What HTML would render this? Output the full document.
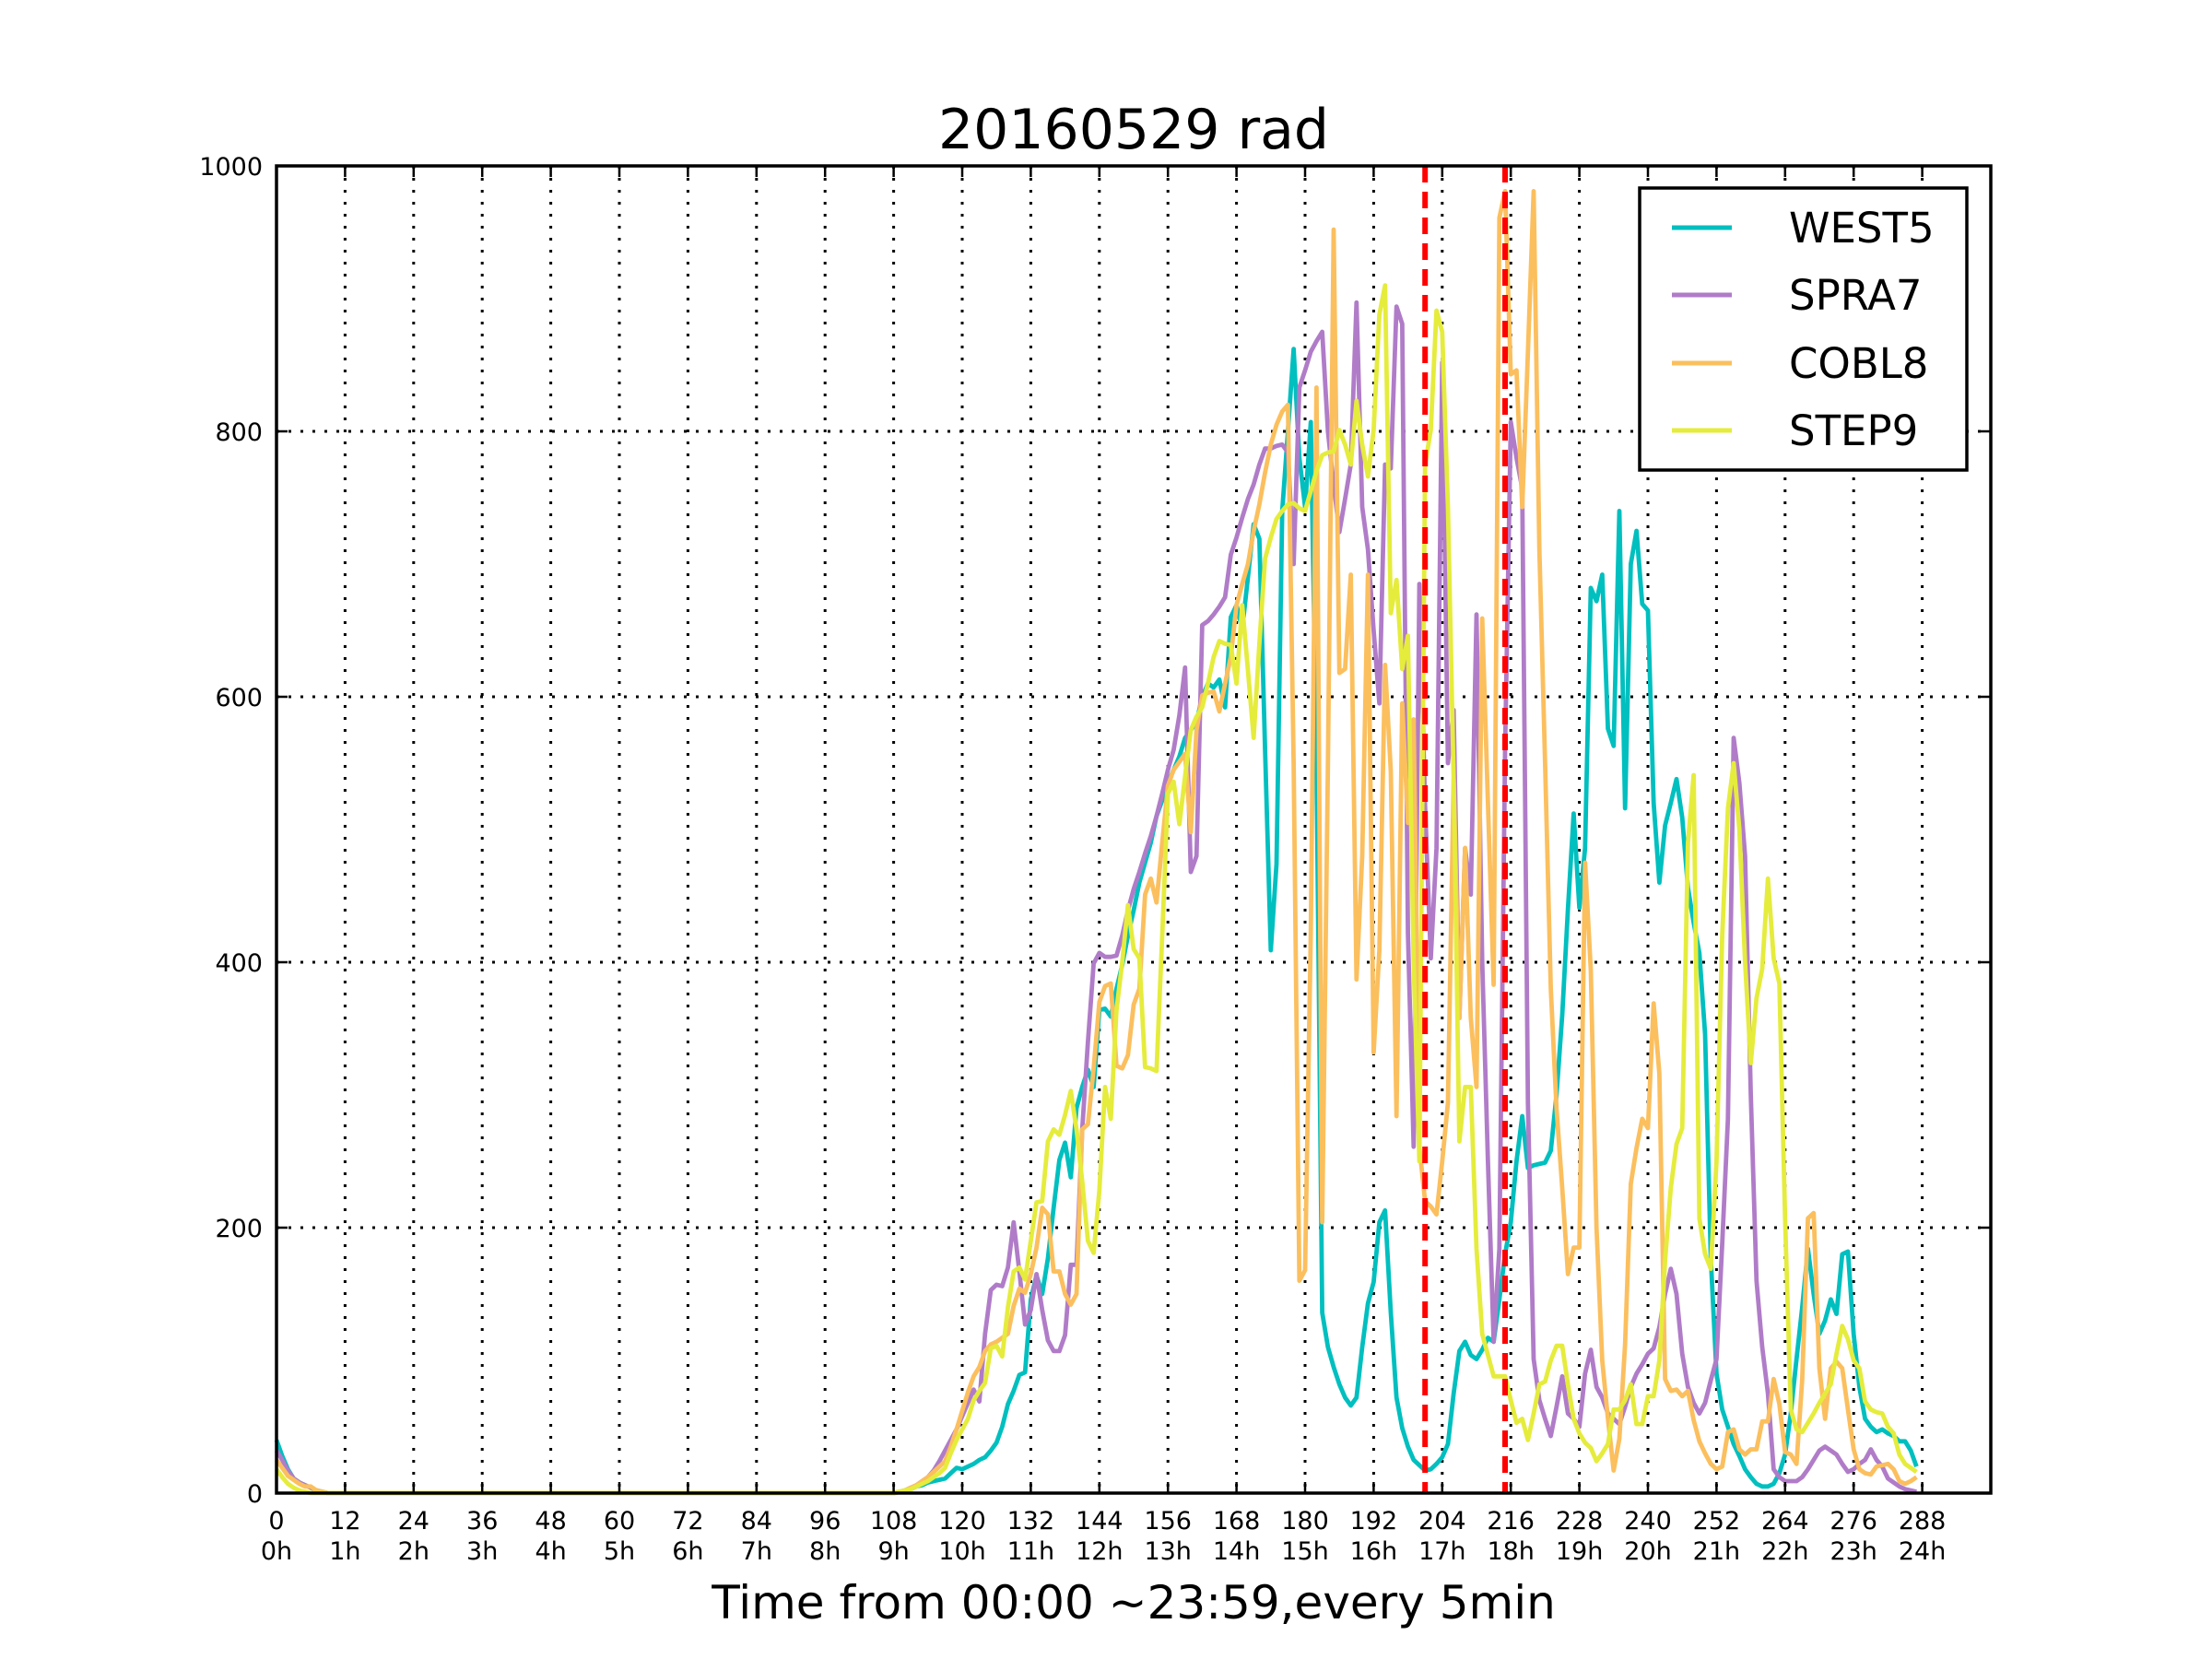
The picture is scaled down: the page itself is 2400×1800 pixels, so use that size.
<!DOCTYPE html>
<html><head><meta charset="utf-8"><style>
html,body{margin:0;padding:0;background:#fff;}
svg{display:block;font-family:"DejaVu Sans","Liberation Sans",sans-serif;}
</style></head><body>
<svg id="chart" width="2400" height="1800" viewBox="0 0 2400 1800" xmlns="http://www.w3.org/2000/svg">
<rect x="0" y="0" width="2400" height="1800" fill="#fff"/>
<text x="1230" y="161" font-size="60" text-anchor="middle">20160529 rad</text>
<text x="1230" y="1756" font-size="50" text-anchor="middle">Time from 00:00 ~23:59,every 5min</text>
<g id="grid"></g>
<g id="series"></g>
<g id="refs"></g>
<rect x="300" y="180" width="1860" height="1440" fill="none" stroke="#000" stroke-width="3.5"/>
<g id="ticks"></g>
<g>
<rect x="1779" y="204" width="355" height="306" fill="#fff" stroke="#000" stroke-width="3.5"/>
<line x1="1814" y1="247" x2="1879" y2="247" stroke="#00bfbf" stroke-width="5"/>
<text x="1941" y="263" font-size="45">WEST5</text>
<line x1="1814" y1="320" x2="1879" y2="320" stroke="#b07cc8" stroke-width="5"/>
<text x="1941" y="336" font-size="45">SPRA7</text>
<line x1="1814" y1="394" x2="1879" y2="394" stroke="#fbbf5e" stroke-width="5"/>
<text x="1941" y="410" font-size="45">COBL8</text>
<line x1="1814" y1="467" x2="1879" y2="467" stroke="#e5ec3c" stroke-width="5"/>
<text x="1941" y="483" font-size="45">STEP9</text>
</g>
</svg>
<script>
const xTicks = [0,12,24,36,48,60,72,84,96,108,120,132,144,156,168,180,192,204,216,228,240,252,264,276,288];
const xHourLabels = ["0h","1h","2h","3h","4h","5h","6h","7h","8h","9h","10h","11h","12h","13h","14h","15h","16h","17h","18h","19h","20h","21h","22h","23h","24h"];
const yTicks = [0,200,400,600,800,1000];
const refLines = [201,215];
const seriesNames = ["WEST5","SPRA7","COBL8","STEP9"];
const seriesColors = ["#00bfbf","#b07cc8","#fbbf5e","#e5ec3c"];
const west5Start = [40,28,18,11,8,6,4,2,1,0];
const spra7Start = [32,25,17,11,8,6,4,2,1,0];
const cobl8Start = [25,19,13,10,7,5,5,2,1,0];
const step9Start = [18,12,7,4,2,1,0,0,0,0];
// values from index 108 to 287
const west5Day = [0,1,2,3,5,6,8,9,10,11,15,19,18,20,22,25,27,32,38,50,67,77,89,91,146,164,150,177,215,251,264,238,290,306,319,306,364,365,359,380,398,420,439,460,475,490,510,522,535,545,555,569,575,581,600,610,607,613,592,660,669,651,690,730,719,560,409,474,740,800,862,780,743,807,550,136,110,95,82,72,66,72,110,143,159,204,213,136,72,49,35,25,21,17,18,22,27,37,75,107,114,104,101,108,117,114,146,180,204,250,284,245,247,248,249,258,300,360,440,512,441,486,682,672,692,576,563,740,516,700,725,670,665,520,460,503,520,538,509,456,430,407,346,177,90,63,50,37,28,18,12,7,5,5,7,15,29,60,101,140,184,150,120,130,146,135,180,182,120,80,56,50,46,48,45,43,39,39,32,20];
const spra7Day = [0,1,2,4,6,9,12,17,24,32,40,48,58,68,78,69,120,153,157,156,170,204,167,127,138,165,138,115,107,107,119,172,172,274,340,399,407,404,404,405,420,439,455,468,482,495,510,527,545,560,586,622,468,480,654,657,662,668,675,707,720,735,749,760,775,787,787,789,790,784,700,833,846,860,868,875,800,760,724,749,775,897,743,711,650,595,775,772,894,881,422,261,685,518,403,486,852,550,590,358,486,451,662,400,250,114,184,560,807,780,757,294,101,70,56,43,65,88,60,56,50,90,108,80,72,60,56,52,65,80,90,97,105,109,125,150,169,150,105,80,68,60,68,85,101,188,282,569,535,480,300,160,110,75,18,12,9,9,9,12,18,25,32,35,32,29,22,16,18,22,25,33,25,20,11,8,5,3,2,1];
const cobl8Day = [0,1,2,4,6,9,12,16,20,24,35,48,62,76,88,95,107,112,114,117,120,141,154,151,165,185,215,210,167,167,150,142,150,274,278,320,370,382,384,322,320,330,368,380,451,463,445,490,533,545,551,557,498,575,601,603,604,589,610,630,669,685,700,725,745,769,790,805,815,820,550,160,168,422,833,204,550,952,618,621,692,387,480,692,332,409,624,544,284,595,505,583,261,220,216,210,250,294,538,358,486,358,306,659,520,383,961,981,843,846,743,860,981,711,550,380,290,230,165,185,185,475,394,200,100,56,17,41,112,233,260,282,275,369,316,86,77,78,73,77,55,39,30,22,18,20,46,48,33,29,33,33,54,54,86,67,31,29,22,86,207,211,94,56,94,99,94,63,33,18,15,14,20,21,22,18,9,7,9,12];
const step9Day = [0,1,2,3,5,7,9,12,15,19,30,40,48,56,70,77,83,109,111,103,140,167,170,161,190,219,220,265,274,270,285,303,274,235,190,181,228,306,282,364,400,443,410,403,321,320,318,420,527,536,504,540,575,585,592,610,630,642,640,639,610,669,620,569,640,704,720,734,740,745,746,742,740,755,770,782,784,785,801,790,775,823,790,766,801,888,910,663,688,621,646,400,250,775,801,891,875,743,538,265,306,306,184,120,104,88,88,88,70,53,56,40,60,82,84,100,111,111,82,56,45,38,34,24,30,37,63,63,70,82,52,52,73,73,100,175,230,263,275,490,541,207,180,169,250,420,516,550,500,400,324,373,395,463,403,384,207,63,48,46,53,60,68,75,82,105,126,116,100,94,69,63,61,60,50,45,29,22,19,16];
const dayStart = 108;

const NS = "http://www.w3.org/2000/svg";
const X0 = 300, X1 = 2160, Y0 = 1620, Y1 = 180;
const xMax = 300, yMax = 1000;
function xs(v){ return X0 + v*(X1-X0)/xMax; }
function ys(v){ return Y0 - v*(Y0-Y1)/yMax; }
function mk(tag, attrs, parent){ const e=document.createElementNS(NS,tag); for(const k in attrs) e.setAttribute(k,attrs[k]); parent.appendChild(e); return e; }

function fullSeries(start, day){
  const out=[];
  for(let i=0;i<dayStart;i++) out.push(i<start.length?start[i]:0);
  for(let j=0;j<day.length;j++) out.push(day[j]);
  return out;
}
const allSeries = [fullSeries(west5Start,west5Day), fullSeries(spra7Start,spra7Day), fullSeries(cobl8Start,cobl8Day), fullSeries(step9Start,step9Day)];

const grid=document.getElementById('grid');
xTicks.forEach((t)=>{
  const l=mk('line',{x1:xs(t),x2:xs(t),y1:Y1,y2:Y0,stroke:'#000','stroke-width':3,'stroke-dasharray':'3,10'},grid);
  
  
});
yTicks.forEach((t)=>{
  const l=mk('line',{x1:X0,x2:X1,y1:ys(t),y2:ys(t),stroke:'#000','stroke-width':3,'stroke-dasharray':'3,10'},grid);
  
  
});

const sg=document.getElementById('series');
allSeries.forEach((vals,si)=>{
  let d='';
  vals.forEach((v,i)=>{ d += (i?'L':'M') + xs(i).toFixed(1) + ',' + ys(v).toFixed(1); });
  const p=mk('path',{d:d,fill:'none',stroke:seriesColors[si],'stroke-width':4.8,'stroke-linejoin':'round'},sg);
  
  
});

const rg=document.getElementById('refs');
refLines.forEach((r)=>{
  const l=mk('line',{x1:xs(r),x2:xs(r),y1:Y1,y2:Y0,stroke:'#ff0000','stroke-width':6,'stroke-dasharray':'18,10'},rg);
  
  
});

const tg=document.getElementById('ticks');
xTicks.forEach((t,i)=>{
  const a=mk('line',{x1:xs(t),x2:xs(t),y1:Y0,y2:Y0-12,stroke:'#000','stroke-width':2.5},tg);
  
  
  const b=mk('line',{x1:xs(t),x2:xs(t),y1:Y1,y2:Y1+12,stroke:'#000','stroke-width':2.5},tg);
  
  
  const tx=mk('text',{x:xs(t),y:1659,'font-size':27,'text-anchor':'middle'},tg);
  tx.textContent=String(t);
  
  
  const th=mk('text',{x:xs(t),y:1692,'font-size':27,'text-anchor':'middle'},tg);
  th.textContent=xHourLabels[i];
  
  
});
yTicks.forEach((t)=>{
  const a=mk('line',{x1:X0,x2:X0+12,y1:ys(t),y2:ys(t),stroke:'#000','stroke-width':2.5},tg);
  
  
  const b=mk('line',{x1:X1,x2:X1-12,y1:ys(t),y2:ys(t),stroke:'#000','stroke-width':2.5},tg);
  
  
  const tx=mk('text',{x:285,y:ys(t)+10,'font-size':27,'text-anchor':'end'},tg);
  tx.textContent=String(t);
  
  
});
</script>
</body></html>
